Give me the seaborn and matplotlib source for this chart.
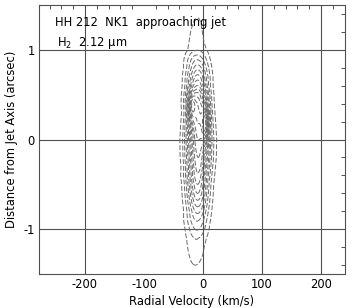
import numpy as np
import seaborn as sns
import matplotlib.pyplot as plt
from matplotlib.ticker import MultipleLocator

# position along the jet (arcsec) where the line profile was read
position = [-1.5, -1.4, -1.3, -1.2, -1.1, -1.0, -0.9, -0.8, -0.7, -0.6, -0.5,
            -0.4, -0.3, -0.2, -0.1, 0.0, 0.1, 0.2, 0.3, 0.4, 0.5,
            0.6, 0.7, 0.8, 0.9, 1.0, 1.1, 1.2, 1.3, 1.4, 1.5]
# peak intensity (in units of the lowest contour)
peak = [0.6, 1.0, 1.3, 1.65, 2.05, 3.1, 4.1, 5.3, 6.7, 8.0, 9.0,
        9.8, 10.5, 11.0, 11.5, 12.0, 12.5, 13.0, 13.0, 12.8, 11.5,
        9.0, 7.4, 5.6, 3.8, 1.9, 1.7, 1.5, 1.2, 0.85, 0.5]
# line centroid (km/s)
centroid = [-13, -13, -12, -12, -11, -10, -10, -9, -9, -9, -9,
            -9, -8, -8, -8, -8, -8, -8, -8, -9, -9,
            -9, -9, -9, -10, -10, -11, -11, -10, -9, -8]
# gaussian line width sigma (km/s)
width = [15, 15, 15, 14, 14, 13.5, 13.5, 13, 13, 13, 13,
         13.5, 13.5, 14, 14, 14, 13.5, 13, 12.5, 12.5, 12.5,
         12.5, 13, 13, 13.5, 14, 12, 11, 10.5, 10, 10]

# compact emission knots: velocity, position, amplitude, extent along the jet
knot_vel = [-19, 4]
knot_pos = [0.36, 0.18]
knot_amp = [5.0, 6.0]
knot_ext = [0.11, 0.15]

levels = np.arange(1, 19, 1)

sns.set_style("white")
plt.rcParams['font.family'] = ['DejaVu Sans']
plt.rcParams['axes.unicode_minus'] = False
plt.rcParams['text.color'] = 'black'
plt.rcParams['axes.labelcolor'] = 'black'
plt.rcParams['xtick.color'] = 'black'
plt.rcParams['ytick.color'] = 'black'

vel = np.arange(-70, 50, 0.5)
pos = np.arange(-1.5, 1.501, 0.01)
V, Y = np.meshgrid(vel, pos)
P = np.interp(pos, position, peak)[:, None]
C = np.interp(pos, position, centroid)[:, None]
W = np.interp(pos, position, width)[:, None]
flux = P * np.exp(-(V - C) ** 2 / (2 * W ** 2))
for kv, kp, ka, ke in zip(knot_vel, knot_pos, knot_amp, knot_ext):
    flux += ka * np.exp(-(V - kv) ** 2 / (2 * 4.0 ** 2) - (Y - kp) ** 2 / (2 * ke ** 2))

fig = plt.figure(figsize=(3.54, 3.08), dpi=100)
ax = fig.add_axes([0.110, 0.110, 0.865, 0.874])

grid_col = '#505050'
for gx in [-200, 0, 100, 200]:
    ax.axvline(gx, color=grid_col, lw=0.8, zorder=1)
for gy in [-1, 0, 1]:
    ax.axhline(gy, color=grid_col, lw=0.8, zorder=1)

ax.contour(V, Y, flux, levels=levels, colors='#6a6a6a', linewidths=0.7,
           linestyles=[(0, (5, 2))], zorder=2)

ax.set_xlim(-278, 241)
ax.set_ylim(-1.5, 1.5)
ax.set_xticks([-200, -100, 0, 100, 200])
ax.set_yticks([-1, 0, 1])
ax.xaxis.set_minor_locator(MultipleLocator(20))
ax.yaxis.set_minor_locator(MultipleLocator(0.2))
ax.tick_params(which='both', direction='in', top=True, right=True,
               color=grid_col, labelsize=8.3, pad=3)
ax.tick_params(which='major', length=0)
ax.tick_params(which='minor', length=3, width=0.7)
for s in ax.spines.values():
    s.set_color(grid_col)
    s.set_linewidth(0.8)

ax.set_xlabel('Radial Velocity (km/s)', fontsize=8.3, labelpad=3)
ax.set_ylabel('Distance from Jet Axis (arcsec)', fontsize=8.3, labelpad=4)

ax.text(0.052, 0.935, 'HH 212  NK1  approaching jet', transform=ax.transAxes,
        fontsize=8.3, va='center')
ax.text(0.06, 0.857, 'H$_2$  2.12 μm', transform=ax.transAxes,
        fontsize=8.3, va='center')

fig.savefig('out.png', dpi=100)
